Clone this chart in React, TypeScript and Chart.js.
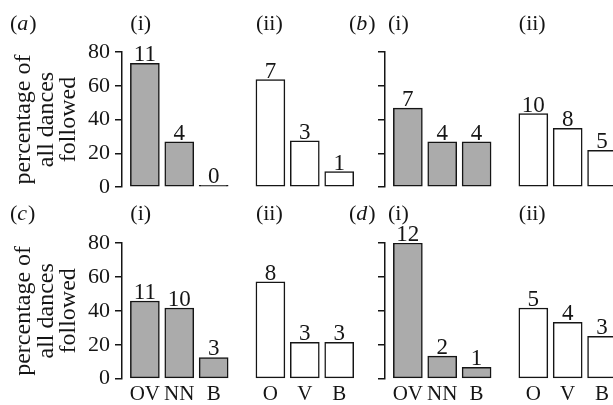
import React, { useEffect, useRef } from 'react';
import { Chart, registerables } from 'chart.js';

Chart.register(...registerables);

const FONT = '"Liberation Serif", "Times New Roman", Times, serif';
const INK = '#151515';
const GREY = '#ababab';
const WHITE = '#ffffff';

// categories and tick labels
const groupILabels = ['OV', 'NN', 'B'];
const groupIILabels = ['O', 'V', 'B'];
const yTickValues = [0, 20, 40, 60, 80];
const yTitleLines = ['percentage of', 'all dances', 'followed'];

// (a) percentages and counts
const aPctI = [73.3, 26.7, 0];
const aPctII = [63.6, 27.3, 9.1];
const aNI = [11, 4, 0];
const aNII = [7, 3, 1];
// (b)
const bPctI = [46.7, 26.7, 26.7];
const bPctII = [43.5, 34.8, 21.7];
const bNI = [7, 4, 4];
const bNII = [10, 8, 5];
// (c)
const cPctI = [45.8, 41.7, 12.5];
const cPctII = [57.1, 21.4, 21.4];
const cNI = [11, 10, 3];
const cNII = [8, 3, 3];
// (d)
const dPctI = [80, 13.3, 6.7];
const dPctII = [41.7, 33.3, 25];
const dNI = [12, 2, 1];
const dNII = [5, 4, 3];

// layout constants
const GROUP_II_START = 3.65;
const X_MIN = -0.665;
const BAR = 29;

type PanelProps = {
  letter: string;
  pctI: number[];
  pctII: number[];
  nI: number[];
  nII: number[];
  left: number;
  top: number;
  width: number;
  height: number;
  yWidth: number;
  xMax: number;
  padTop: number;
  padBottom: number;
  xHeight: number;
  showX: boolean;
  showY: boolean;
  letterX: number;
  iX: number | null;
  labelY: number;
};

function drawLetter(ctx: CanvasRenderingContext2D, letter: string, x: number, y: number) {
  ctx.font = `22px ${FONT}`;
  ctx.fillText('(', x, y);
  let cx = x + ctx.measureText('(').width;
  ctx.font = `italic 22px ${FONT}`;
  ctx.fillText(letter, cx, y);
  cx += ctx.measureText(letter).width + 1;
  ctx.font = `22px ${FONT}`;
  ctx.fillText(')', cx, y);
}

function Panel(p: PanelProps) {
  const ref = useRef<HTMLCanvasElement>(null);
  useEffect(() => {
    if (!ref.current) return;
    const xsI = groupILabels.map((_, i) => i);
    const xsII = groupIILabels.map((_, i) => i + GROUP_II_START);
    const tickXs = [...xsI, ...xsII];
    const tickLabels = [...groupILabels, ...groupIILabels];

    const annot = {
      id: 'annot',
      afterDatasetsDraw(chart: any) {
        const ctx: CanvasRenderingContext2D = chart.ctx;
        ctx.save();
        ctx.fillStyle = INK;
        ctx.font = `23px ${FONT}`;
        ctx.textAlign = 'center';
        ctx.textBaseline = 'alphabetic';
        [p.nI, p.nII].forEach((counts, di) => {
          const meta = chart.getDatasetMeta(di);
          meta.data.forEach((el: any, j: number) => {
            ctx.fillText(String(counts[j]), el.x, el.y - 2);
          });
        });
        ctx.textAlign = 'left';
        const xs = chart.scales.x;
        drawLetter(ctx, p.letter, p.letterX, p.labelY);
        ctx.font = `22px ${FONT}`;
        const ix = p.iX !== null ? p.iX : xs.getPixelForValue(0) - BAR / 2;
        ctx.fillText('(i)', ix, p.labelY);
        ctx.fillText('(ii)', xs.getPixelForValue(GROUP_II_START) - BAR / 2, p.labelY);
        ctx.restore();
      },
    };

    const common = {
      borderColor: INK,
      borderWidth: 1.5,
      borderSkipped: false as const,
      barThickness: BAR,
      minBarLength: 1.6,
      grouped: false,
    };
    const fillFor = (base: string) => (c: any) => (c.raw && c.raw.y === 0 ? INK : base);

    const chart = new Chart(ref.current, {
      type: 'bar',
      data: {
        datasets: [
          { ...common, data: xsI.map((x, i) => ({ x, y: p.pctI[i] })), backgroundColor: fillFor(GREY) },
          { ...common, data: xsII.map((x, i) => ({ x, y: p.pctII[i] })), backgroundColor: fillFor(WHITE) },
        ],
      } as any,
      options: {
        animation: false,
        responsive: false,
        layout: { padding: { top: p.padTop, bottom: p.padBottom, left: 0, right: 0 } },
        plugins: { legend: { display: false }, tooltip: { enabled: false } },
        scales: {
          x: {
            type: 'linear',
            offset: false,
            min: X_MIN,
            max: p.xMax,
            grid: { display: false, drawTicks: false, offset: false },
            border: { display: false },
            ticks: {
              display: p.showX,
              autoSkip: false,
              maxRotation: 0,
              padding: 3,
              color: INK,
              font: { family: FONT, size: 21 },
              callback: (_v: any, i: number) => tickLabels[i] ?? '',
            },
            afterBuildTicks: (s: any) => {
              s.ticks = tickXs.map((v) => ({ value: v }));
            },
            afterFit: (s: any) => {
              s.height = p.xHeight;
            },
          },
          y: {
            min: 0,
            max: 80,
            afterBuildTicks: (s: any) => {
              s.ticks = yTickValues.map((v) => ({ value: v }));
            },
            grid: { drawOnChartArea: false, drawTicks: true, tickLength: 7, color: INK, lineWidth: 1.5 },
            border: { display: true, color: INK, width: 1.5 },
            ticks: { display: p.showY, padding: 5, color: INK, font: { family: FONT, size: 22 } },
            title: {
              display: p.showY,
              text: yTitleLines,
              color: INK,
              font: { family: FONT, size: 24, lineHeight: 0.94 },
              padding: { top: 12.7, bottom: 0 },
            },
            afterFit: (s: any) => {
              s.width = p.yWidth;
            },
          },
        },
      } as any,
      plugins: [annot],
    });
    return () => chart.destroy();
  }, []);

  return (
    <canvas
      ref={ref}
      width={p.width}
      height={p.height}
      style={{ position: 'absolute', left: p.left, top: p.top, width: p.width, height: p.height }}
    />
  );
}

export default function App() {
  const topRow = { top: 0, height: 206, padTop: 52, padBottom: 19, xHeight: 0, showX: false, labelY: 30 };
  const bottomRow = { top: 200, height: 205, padTop: 43, padBottom: 0, xHeight: 26.3, showX: true, labelY: 19.5 };
  const leftCol = { left: 0, width: 365, yWidth: 122, xMax: 6.4, showY: true, letterX: 10, iX: null };
  const rightCol = { left: 340, width: 273, yWidth: 45, xMax: 5.968, showY: false, letterX: 9, iX: 48 };
  return (
    <div style={{ position: 'absolute', left: 0, top: 0, width: 613, height: 405, background: '#fff', overflow: 'hidden' }}>
      <Panel letter="a" pctI={aPctI} pctII={aPctII} nI={aNI} nII={aNII} {...topRow} {...leftCol} />
      <Panel letter="b" pctI={bPctI} pctII={bPctII} nI={bNI} nII={bNII} {...topRow} {...rightCol} />
      <Panel letter="c" pctI={cPctI} pctII={cPctII} nI={cNI} nII={cNII} {...bottomRow} {...leftCol} />
      <Panel letter="d" pctI={dPctI} pctII={dPctII} nI={dNI} nII={dNII} {...bottomRow} {...rightCol} />
    </div>
  );
}
